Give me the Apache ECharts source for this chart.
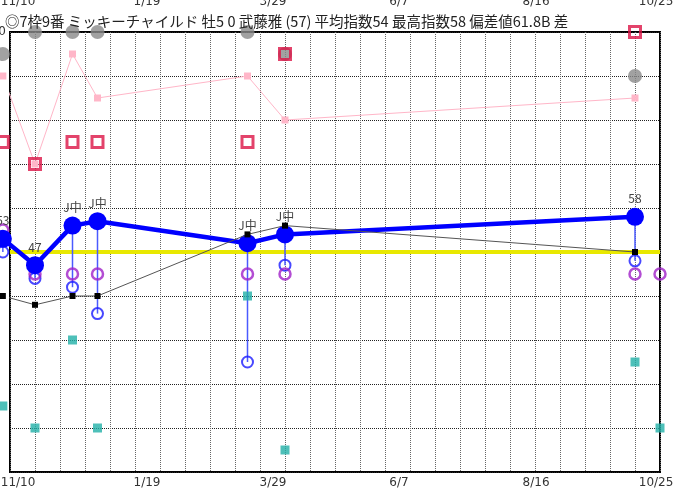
<!DOCTYPE html>
<html>
<head>
<meta charset="utf-8">
<script src="https://cdn.jsdelivr.net/npm/echarts@6/dist/echarts.min.js"></script>
<style>
html,body{margin:0;padding:0;background:#fff;}
#chart{width:683px;height:495px;}
</style>
</head>
<body>
<div id="chart"></div>
<script>
// ---- data ----
const titleText = '◎7枠9番 ミッキーチャイルド 牡5 0 武藤雅 (57) 平均指数54 最高指数58 偏差値61.8B 差';
const raceDays = [-4, 14, 35, 49, 133, 154, 350];
const todayDay = 364;
const indexVals = [53, 47, 56, 57, 52, 54, 58];
const indexLabels = ['53', '47', 'J中', 'J中', 'J中', 'J中', '58'];
const blackVals = [40, 38, 40, 40, 54, 56, 50];
const pinkVals = [90, 70, 95, 85, 90, 80, 85];
const grayVals = [95, 100, 100, 100, 100, 95, 90];
const redVals = [75, 70, 75, 75, 75, 95, 100];
const purpleVals = [55, 45, 45, 45, 45, 45, 45];
const purpleToday = 45;
const ringVals = [50, 44, 42, 36, 25, 47, 48];
const tealVals = [15, 10, 30, 10, 40, 5, 25];
const tealToday = 10;
const baseLine = 50;
const tickLabels = ['11/10', '1/19', '3/29', '6/7', '8/16', '10/25'];
const tickDays = [4.5, 76.7, 147.3, 217.8, 294.6, 361.8];
const yTopLabel = 100;

// ---- build ----
const pair = (vals, days) => vals.map((v, i) => [days[i], v]);
const fontAx = 'DejaVu Sans';
const labelFmt = v => { const i = tickDays.indexOf(v); return i >= 0 ? tickLabels[i] : ''; };

const chart = echarts.init(document.getElementById('chart'), null, {renderer: 'canvas'});
chart.setOption({
  animation: false,
  backgroundColor: '#fff',
  title: {
    text: titleText, left: 5, top: 14, padding: 0,
    textStyle: {fontSize: 14.5, fontWeight: 'normal', color: '#222', fontFamily: "'Noto Sans CJK JP', sans-serif"}
  },
  grid: {left: 10, right: 23, top: 32, bottom: 23, containLabel: false, outerBoundsMode: 'none',
    show: true, borderColor: '#000', borderWidth: 2, backgroundColor: '#fff'},
  xAxis: [{
    type: 'value', min: 0, max: 364, interval: 14, position: 'bottom',
    axisLine: {show: false}, axisTick: {show: false},
    splitLine: {show: true, lineStyle: {color: '#666', type: 'dotted', width: 1}},
    axisLabel: {customValues: tickDays, formatter: labelFmt, color: '#333', fontSize: 12, fontFamily: fontAx, margin: 5}
  }, {
    type: 'value', min: 0, max: 364, position: 'top',
    axisLine: {show: false}, axisTick: {show: false}, splitLine: {show: false},
    axisLabel: {customValues: tickDays, formatter: labelFmt, color: '#333', fontSize: 12, fontFamily: fontAx, margin: 24}
  }],
  yAxis: {
    type: 'value', min: 0, max: 100, interval: 10,
    axisLine: {show: false}, axisTick: {show: false},
    splitLine: {show: true, lineStyle: {color: '#222', type: 'dotted', width: 1}},
    axisLabel: {formatter: v => v === yTopLabel ? String(v) : '', color: '#333', fontSize: 12, fontFamily: fontAx, margin: 4}
  },
  series: [
    {
      name: 'base', type: 'line', data: [], z: 2,
      markLine: {silent: true, symbol: 'none', label: {show: false},
        lineStyle: {color: '#e8e800', width: 4, type: 'solid'},
        data: [{yAxis: baseLine}]}
    },
    {
      name: 'pink', type: 'line', data: pair(pinkVals, raceDays), clip: false, z: 3,
      symbol: 'rect', symbolSize: 7,
      lineStyle: {color: '#ffb6c8', width: 1},
      itemStyle: {color: '#ffb6c8'}
    },
    {
      name: 'gray', type: 'scatter', data: pair(grayVals, raceDays), clip: false, z: 4,
      symbol: 'circle', symbolSize: 14, itemStyle: {color: '#8a8a8a'}
    },
    {
      name: 'red', type: 'scatter', data: pair(redVals, raceDays), clip: false, z: 5,
      symbol: 'rect', symbolSize: 11,
      itemStyle: {color: 'rgba(255,255,255,0)', borderColor: '#dc1446', borderWidth: 3}
    },
    {
      name: 'drop', type: 'custom', clip: false, z: 6,
      data: raceDays.map((d, i) => [d, indexVals[i], ringVals[i]]),
      renderItem: (params, api) => {
        const p1 = api.coord([api.value(0), api.value(1)]);
        const p2 = api.coord([api.value(0), api.value(2)]);
        return {type: 'line', shape: {x1: p1[0], y1: p1[1], x2: p2[0], y2: p2[1]},
          style: {stroke: '#4a5aff', lineWidth: 1.5}};
      }
    },
    {
      name: 'teal', type: 'scatter', clip: false, z: 7,
      data: pair(tealVals, raceDays).concat([[todayDay, tealToday]]),
      symbol: 'rect', symbolSize: 9, itemStyle: {color: '#22b0a8'}
    },
    {
      name: 'ring', type: 'scatter', data: pair(ringVals, raceDays), clip: false, z: 8,
      symbol: 'circle', symbolSize: 11,
      itemStyle: {color: 'rgba(255,255,255,0)', borderColor: '#1a1aff', borderWidth: 2}
    },
    {
      name: 'purple', type: 'scatter', clip: false, z: 9,
      data: pair(purpleVals, raceDays).concat([[todayDay, purpleToday]]),
      symbol: 'circle', symbolSize: 11,
      itemStyle: {color: 'rgba(255,255,255,0)', borderColor: '#a020c8', borderWidth: 2.5}
    },
    {
      name: 'index', type: 'line', data: pair(indexVals, raceDays), clip: false, z: 10,
      symbol: 'circle', symbolSize: 18,
      lineStyle: {color: '#0000ff', width: 4.5},
      itemStyle: {color: '#0000ff'},
      label: {show: true, position: 'top', distance: 3, color: '#444', fontSize: 12, fontFamily: "'Noto Sans CJK JP', sans-serif",
        formatter: p => indexLabels[p.dataIndex]}
    },
    {
      name: 'black', type: 'line', data: pair(blackVals, raceDays), clip: false, z: 11,
      symbol: 'rect', symbolSize: 6,
      lineStyle: {color: '#555', width: 1},
      itemStyle: {color: '#000'}
    }
  ]
});
</script>
</body>
</html>
